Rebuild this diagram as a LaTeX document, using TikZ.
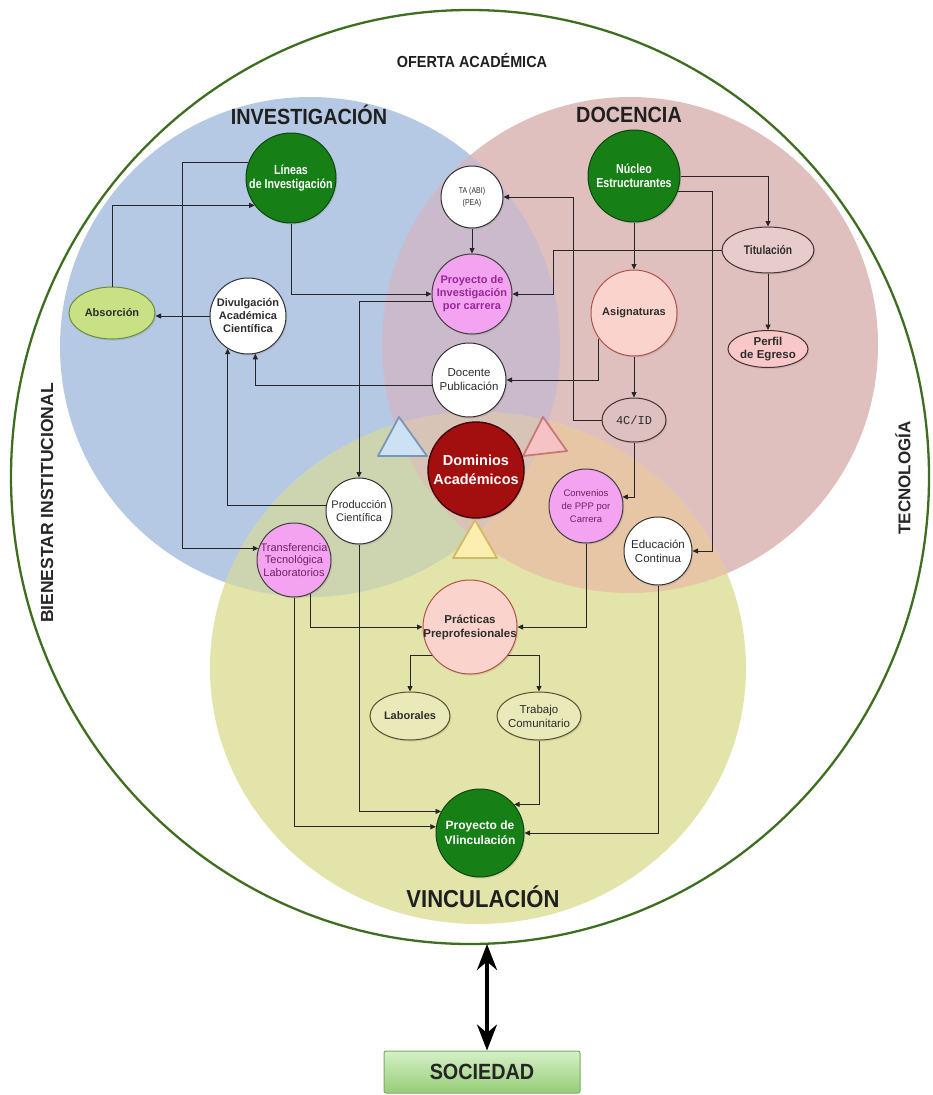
\documentclass[tikz,border=0pt]{standalone}
\usepackage{fontspec}
\setmainfont{Liberation Sans}
\setmonofont{Liberation Mono}
\newfontfamily\nf[FakeStretch=0.82]{Liberation Sans}
\newfontfamily\hf[FakeStretch=0.9]{Liberation Sans}
\usetikzlibrary{arrows.meta,shapes.geometric,shadows}
\definecolor{bgblue}{RGB}{181,201,228}
\definecolor{bgred}{RGB}{224,191,191}
\definecolor{bgyel}{RGB}{227,228,170}
\definecolor{ovbr}{RGB}{203,186,203}
\definecolor{ovby}{RGB}{205,212,176}
\definecolor{ovry}{RGB}{231,198,166}
\definecolor{ovall}{RGB}{216,196,182}
\definecolor{gfill}{RGB}{22,128,22}
\definecolor{gline}{RGB}{12,70,12}
\definecolor{dfill}{RGB}{163,14,14}
\definecolor{dline}{RGB}{70,0,0}
\definecolor{vfill}{RGB}{243,163,240}
\definecolor{vtext}{RGB}{150,40,150}
\definecolor{vtext2}{RGB}{110,35,100}
\definecolor{sfill}{RGB}{250,212,204}
\definecolor{sline}{RGB}{178,82,70}
\definecolor{pfill}{RGB}{248,200,200}
\definecolor{tfill}{RGB}{232,204,204}
\definecolor{cfill}{RGB}{222,192,192}
\definecolor{rline}{RGB}{70,50,50}
\definecolor{afill}{RGB}{200,225,132}
\definecolor{aline}{RGB}{110,140,60}
\definecolor{yfill}{RGB}{233,233,186}
\definecolor{yline}{RGB}{90,80,40}
\definecolor{txt}{RGB}{45,45,45}
\definecolor{outerg}{RGB}{62,110,32}
\definecolor{tribf}{RGB}{205,225,245}
\definecolor{tribl}{RGB}{120,150,185}
\definecolor{tripf}{RGB}{245,195,195}
\definecolor{tripl}{RGB}{200,120,120}
\definecolor{triyf}{RGB}{252,238,176}
\definecolor{triyl}{RGB}{210,185,100}
\definecolor{soctop}{RGB}{214,240,200}
\definecolor{socbot}{RGB}{150,205,120}
\definecolor{socline}{RGB}{120,175,95}
\begin{document}
\begin{tikzpicture}[x=1pt,y=-1pt,
 arr/.style={-{Triangle[length=5.5pt,width=5pt]},line width=0.8pt,draw=black!85},
 shad/.style={drop shadow={opacity=0.22,shadow xshift=1.3pt,shadow yshift=-1.6pt}},
 nd/.style={shad,align=center,inner sep=0pt,line width=1pt},
 circ/.style={nd,circle,minimum size=#1},
 ovl/.style 2 args={nd,ellipse,minimum width=#1,minimum height=#2},
 gnode/.style={fill=gfill,draw=gline,text=white,font=\nf\bfseries\fontsize{13}{14}\selectfont},
 wnode/.style={fill=white,draw=black!80,text=txt,font=\fontsize{11}{13}\selectfont},
 vnode/.style={fill=vfill,draw=black!75,font=\fontsize{11}{12.5}\selectfont},
 snode/.style={fill=sfill,draw=sline,line width=1.8pt,text=txt,font=\bfseries\fontsize{11}{13}\selectfont},
 heading/.style={text=black!88,font=\hf\bfseries\fontsize{22}{24}\selectfont},
 sidelab/.style={text=black!85,font=\bfseries\fontsize{17.5}{19}\selectfont,rotate=90},
 tri/.style={line width=1.8pt,line join=round},
]
\useasboundingbox (0,0) rectangle (932,1095);
% background circles
\fill[bgblue] (310,347) circle[radius=250pt];
\fill[bgred] (630,345) circle[radius=248pt];
\fill[bgyel] (478,668) ellipse[x radius=268pt,y radius=256pt];
\begin{scope}
 \clip (310,347) circle[radius=250pt];
 \fill[ovbr] (630,345) circle[radius=248pt];
 \fill[ovby] (478,668) ellipse[x radius=268pt,y radius=256pt];
\end{scope}
\begin{scope}
 \clip (630,345) circle[radius=248pt];
 \fill[ovry] (478,668) ellipse[x radius=268pt,y radius=256pt];
\end{scope}
\begin{scope}
 \clip (310,347) circle[radius=250pt];
 \clip (630,345) circle[radius=248pt];
 \fill[ovall] (478,668) ellipse[x radius=268pt,y radius=256pt];
\end{scope}
% outer ellipse
\draw[outerg,line width=2.3pt] (470,477) ellipse[x radius=459pt,y radius=467pt];
\coordinate (ebot) at (487,944);
% headings
\node[text=black!88,font=\hf\bfseries\fontsize{16}{18}\selectfont] (ofe) at (472,60) {OFERTA ACADÉMICA};
\node[heading] (inv) at (309,115) {INVESTIGACIÓN};
\node[heading] (doc) at (629,115) {DOCENCIA};
\node[heading,font=\hf\bfseries\fontsize{24.5}{26}\selectfont] (vinc) at (483,897) {VINCULACIÓN};
\node[sidelab] (bien) at (47,503) {BIENESTAR INSTITUCIONAL};
\node[sidelab,font=\bfseries\fontsize{17}{19}\selectfont] (tec) at (903,478) {TECNOLOGÍA};
% triangles
\draw[tri,fill=tribf,draw=tribl] (399,417) -- (378,456) -- (427,456) -- cycle;
\draw[tri,fill=tripf,draw=tripl] (543,417) -- (523,456) -- (567,451) -- cycle;
\draw[tri,fill=triyf,draw=triyl] (475,520) -- (453,558) -- (497,558) -- cycle;
% nodes
\node[gnode,circ=90pt,inner sep=-6pt] (lineas) at (291,178) {Líneas\\de Investigación};
\node[gnode,circ=92pt,inner sep=-6pt] (nucleo) at (634,176) {Núcleo\\Estructurantes};
\node[wnode,circ=62pt,font=\nf\fontsize{8.5}{12}\selectfont] (ta) at (472,197) {TA (ABI)\\(PEA)};
\node[ovl={92pt}{46pt},fill=tfill,draw=rline,text=txt,font=\nf\bfseries\fontsize{12.5}{14}\selectfont] (titul) at (768,250) {Titulación};
\node[vnode,circ=80pt,inner sep=-2pt,text=vtext,font=\bfseries\fontsize{11}{13}\selectfont] (proy) at (472,294) {Proyecto de\\Investigación\\por carrera};
\node[snode,circ=86pt] (asig) at (634,313) {Asignaturas};
\node[ovl={80pt}{37pt},inner sep=-3pt,fill=pfill,draw=rline,text=txt,font=\bfseries\fontsize{11.5}{13}\selectfont] (perfil) at (768,349) {Perfil\\de Egreso};
\node[ovl={86pt}{52pt},fill=afill,draw=aline,text=txt,font=\bfseries\fontsize{11}{13}\selectfont] (absor) at (112,313) {Absorción};
\node[wnode,circ=76pt,font=\bfseries\fontsize{11}{13}\selectfont] (divul) at (248,316) {Divulgación\\Académica\\Científica};
\node[wnode,circ=74pt,font=\fontsize{11.5}{14}\selectfont] (docente) at (469,380) {Docente\\Publicación};
\node[ovl={64pt}{44pt},fill=cfill,draw=rline,text=txt,font=\ttfamily\fontsize{12}{14}\selectfont] (cid) at (634,420) {4C/ID};
\node[circ=96pt,fill=dfill,draw=dline,line width=1.4pt,text=white,font=\bfseries\fontsize{14.5}{19}\selectfont] (dom) at (476,470) {Dominios\\Académicos};
\node[wnode,circ=66pt,inner sep=-3pt] (prod) at (359,511) {Producción\\Científica};
\node[vnode,circ=74pt,text=vtext2,font=\fontsize{9.5}{13}\selectfont] (conv) at (586,506) {Convenios\\de PPP por\\Carrera};
\node[vnode,circ=74pt,inner sep=-7pt,text=vtext2] (transf) at (294,560) {Transferencia\\Tecnológica\\Laboratorios};
\node[wnode,circ=68pt,font=\fontsize{11.5}{14}\selectfont] (educ) at (658,551) {Educación\\Continua};
\node[snode,circ=94pt,inner sep=-8pt,font=\bfseries\fontsize{11.5}{14}\selectfont] (pract) at (470,627) {Prácticas\\Preprofesionales};
\node[ovl={80pt}{48pt},fill=yfill,draw=yline,text=txt,font=\bfseries\fontsize{11}{13}\selectfont] (labor) at (410,716) {Laborales};
\node[ovl={84pt}{48pt},inner sep=-4pt,fill=yfill,draw=yline,text=txt,font=\fontsize{11.5}{14}\selectfont] (trab) at (539,716) {Trabajo\\Comunitario};
\node[gnode,circ=88pt,font=\bfseries\fontsize{12}{15}\selectfont] (pvinc) at (480,833) {Proyecto de\\Vlinculación};
% sociedad
\node[draw=socline,line width=1pt,top color=soctop,bottom color=socbot,minimum width=196pt,minimum height=42pt,rounded corners=2pt,text=black!85,font=\hf\bfseries\fontsize{22}{24}\selectfont] (soc) at (482,1072) {SOCIEDAD};
\draw[{Stealth[length=26pt,width=20pt]}-{Stealth[length=26pt,width=20pt]},line width=3.6pt] (ebot) -- (ebot |- soc.north);
% connectors
\draw[arr] (lineas.160) -| (182,0 |- transf.162) -- (transf.162);
\draw[arr] (absor.north) |- (lineas.217);
\draw[arr] (lineas.south) |- (proy.west);
\draw[arr] (divul.west) -- (absor.east |- divul.west);
\draw[arr] (proy.191) -| (prod.north);
\draw[arr] (docente.189) -| (divul.281);
\draw[arr] (prod.171) -| (divul.238);
\draw[arr] (ta.south) -- (proy.north);
\draw[arr] (cid.west) -- (573,0 |- cid.west) |- (ta.east);
\draw[arr] (titul.west) -- (553,0 |- titul.west) |- (proy.east);
\draw[arr] (nucleo.south) -- (asig.north);
\draw[arr] (nucleo.east) -| (titul.north);
\draw[arr] (nucleo.341) -- (712,0 |- nucleo.341) |- (educ.east);
\draw[arr] (asig.216) |- (docente.east);
\draw[arr] (asig.south) -- (cid.north);
\draw[arr] (titul.south) -- (perfil.north);
\draw[arr] (cid.south) |- (conv.14);
\draw[arr] (conv.south) |- (pract.east);
\draw[arr] (transf.296) |- (pract.west);
\draw[arr] (transf.south) |- (pvinc.172);
\draw[arr] (prod.south) |- (pvinc.151);
\draw[arr] (pract.217) -| (labor.north);
\draw[arr] (pract.323) -| (trab.north);
\draw[arr] (trab.south) |- (pvinc.40);
\draw[arr] (educ.south) |- (pvinc.east);
\end{tikzpicture}
\end{document}
